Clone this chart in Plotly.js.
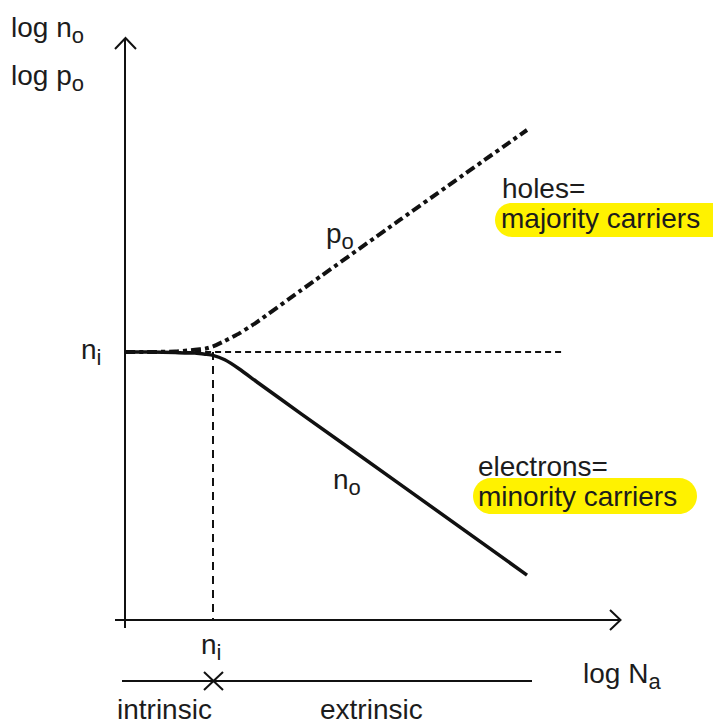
<!DOCTYPE html>
<html>
<head>
<meta charset="utf-8">
<script src="https://cdn.plot.ly/plotly-3.0.1.min.js"></script>
<style>
  html, body { margin: 0; padding: 0; background: #ffffff; }
  #chart { width: 713px; height: 724px; }
</style>
</head>
<body>
<div id="chart"></div>
<script>
// Carrier concentrations in a p-type semiconductor versus acceptor doping (log-log).
// x: log Na, y: log n  (intrinsic level log ni = 10)
const logNi = 10;
const logNa = [8.88, 9.20, 9.52, 9.77, 9.90, 10.00, 10.15, 10.34, 10.56, 11.11, 12.38, 14.00];
const logP0 = [10.00, 10.00, 10.01, 10.04, 10.06, 10.10, 10.20, 10.34, 10.54, 11.10, 12.38, 14.00];
const logN0 = [10.00, 10.00, 9.99, 9.98, 9.96, 9.94, 9.86, 9.69, 9.46, 8.90, 7.62, 5.98];
const niRefX = [8.88, 14.48];      // extent of the dashed ni reference line
const niRefY = [logNi, logNi];

// Page geometry
const W = 713, H = 724;
const NI_PX_X = 213, NI_PX_Y = 352;   // where ni sits on the page
const PX_PER_DEC_X = 78.5, PX_PER_DEC_Y = 55.5;
const xRange = [logNi - NI_PX_X / PX_PER_DEC_X, logNi + (W - NI_PX_X) / PX_PER_DEC_X];
const yRange = [logNi - (H - NI_PX_Y) / PX_PER_DEC_Y, logNi + NI_PX_Y / PX_PER_DEC_Y];

const px = v => v / W;          // page pixel -> paper x
const py = v => 1 - v / H;      // page pixel -> paper y
const toY = v => yRange[0] + (1 - v / H) * (yRange[1] - yRange[0]);

const INK = '#111111';
const TXT = '#1c1c1c';
const FONT = 'Liberation Sans, Arial, Helvetica, sans-serif';
const FS = 28;
const sub = s => '<sub><span style="font-size:22px">' + s + '</span></sub>';

function line(x0, y0, x1, y1, w, dash) {
  return { type: 'line', xref: 'paper', yref: 'paper',
           x0: px(x0), y0: py(y0), x1: px(x1), y1: py(y1),
           line: { color: INK, width: w, dash: dash || 'solid' } };
}
function path(points, w) {
  const d = points.map((p, i) => (i ? 'L' : 'M') + px(p[0]) + ',' + py(p[1])).join(' ');
  return { type: 'path', xref: 'paper', yref: 'paper', path: d,
           line: { color: INK, width: w } };
}
// pill-shaped highlight behind a label
function pill(x0, x1, yTop, yBot, color) {
  const r = (yBot - yTop) / 2, k = 0.5523 * r;
  const P = (x, y) => px(x) + ',' + py(y);
  const d = 'M' + P(x0 + r, yTop) + ' L' + P(x1 - r, yTop) +
    ' C' + P(x1 - r + k, yTop) + ' ' + P(x1, yTop + r - k) + ' ' + P(x1, yTop + r) +
    ' C' + P(x1, yTop + r + k) + ' ' + P(x1 - r + k, yBot) + ' ' + P(x1 - r, yBot) +
    ' L' + P(x0 + r, yBot) +
    ' C' + P(x0 + r - k, yBot) + ' ' + P(x0, yTop + r + k) + ' ' + P(x0, yTop + r) +
    ' C' + P(x0, yTop + r - k) + ' ' + P(x0 + r - k, yTop) + ' ' + P(x0 + r, yTop) + ' Z';
  return { type: 'path', xref: 'paper', yref: 'paper', path: d, layer: 'below',
           fillcolor: color, line: { width: 0 } };
}
function label(text, x, y) {
  return { text: text, xref: 'paper', yref: 'paper', x: px(x), y: py(y),
           xanchor: 'left', yanchor: 'middle', showarrow: false, borderpad: 0,
           font: { family: FONT, size: FS, color: TXT } };
}

const traces = [
  { x: niRefX, y: niRefY, mode: 'lines', hoverinfo: 'skip',
    line: { color: INK, width: 2, dash: '6px,4px' } },
  { x: logNa, y: logN0, mode: 'lines', name: 'n0', line: { color: INK, width: 3.5, shape: 'spline', smoothing: 0.6 } },
  { x: logNa, y: logP0, mode: 'lines', name: 'p0', line: { color: INK, width: 4, shape: 'spline', smoothing: 0.6, dash: '10px,4px,4px,4px' } },
  // ni on the doping axis: vertical dashed guide down to the x axis
  { x: [logNi, logNi], y: [logNi, toY(620)], mode: 'lines', hoverinfo: 'skip',
    line: { color: INK, width: 2, dash: '8px,6px' } }
];

const shapes = [
  pill(495, 740, 203, 237, '#fff200'),
  pill(473, 697, 478, 514, '#fff200'),
  // axes
  line(125, 628, 125, 39, 2),
  path([[115, 49], [125.5, 38], [136, 49]], 2),
  line(115, 620, 619, 620, 2),
  path([[610, 610], [620.5, 620], [610, 630]], 2),
  // intrinsic / extrinsic scale
  line(122, 681, 532, 681, 2),
  line(204, 672, 223, 690, 2),
  line(223, 672, 204, 690, 2)
];

const annotations = [
  label('log n' + sub('o'), 10, 30),
  label('log p' + sub('o'), 10, 78),
  label('n' + sub('i'), 80, 352),
  label('p' + sub('o'), 325, 236),
  label('n' + sub('o'), 332, 482),
  label('holes=', 501, 188),
  label('majority carriers', 500, 219),
  label('electrons=', 477, 466),
  label('minority carriers', 477, 496),
  label('n' + sub('i'), 200, 647),
  label('log N' + sub('a'), 582, 676),
  label('intrinsic', 116, 709),
  label('extrinsic', 319, 709)
];

const layout = {
  width: W, height: H,
  margin: { l: 0, r: 0, t: 0, b: 0 },
  paper_bgcolor: '#ffffff', plot_bgcolor: '#ffffff',
  showlegend: false,
  xaxis: { range: xRange, visible: false, fixedrange: true },
  yaxis: { range: yRange, visible: false, fixedrange: true },
  shapes: shapes,
  annotations: annotations
};

Plotly.newPlot('chart', traces, layout, { staticPlot: true, displayModeBar: false });
</script>
</body>
</html>
